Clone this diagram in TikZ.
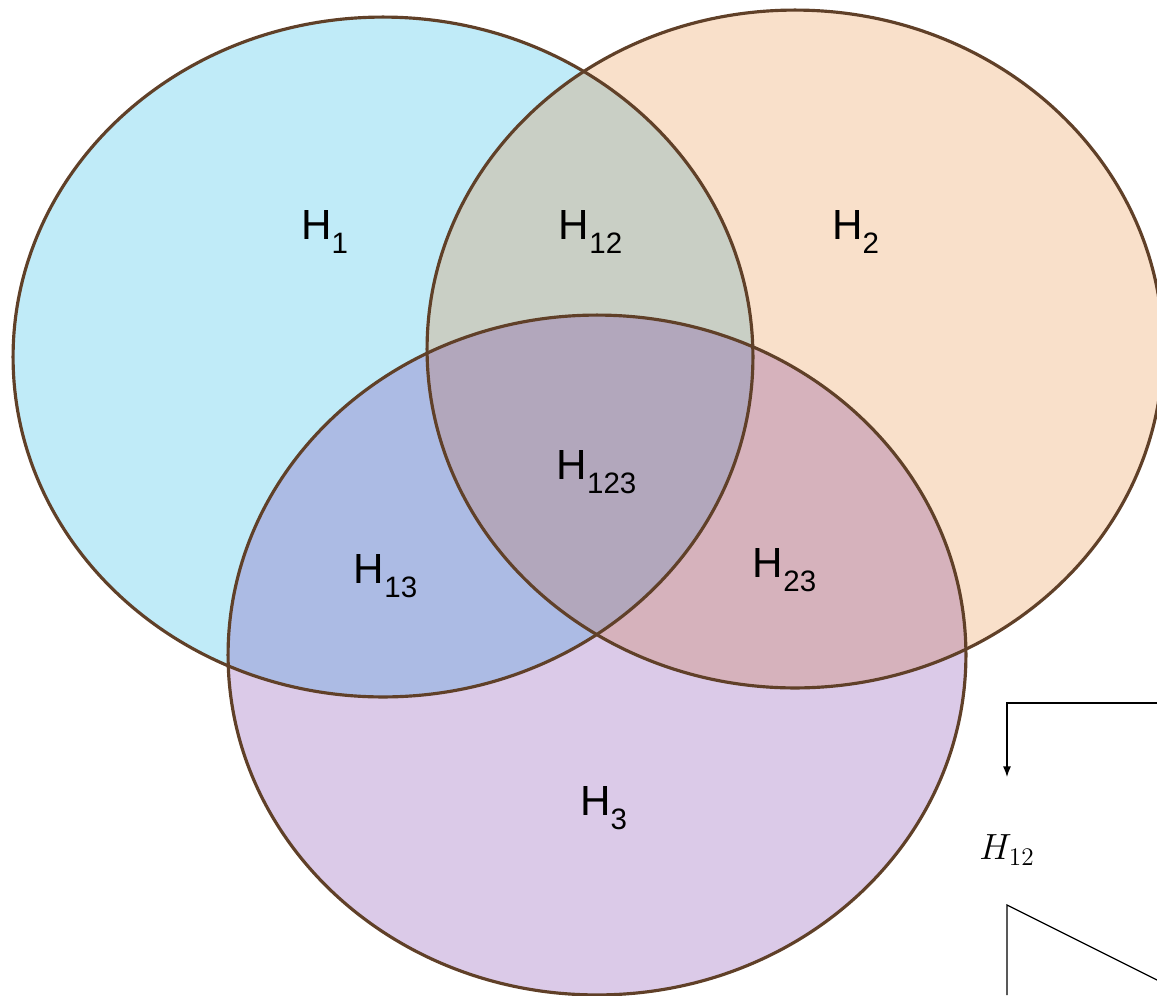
\documentclass[tikz,border=0pt]{standalone}
\usepackage{fontspec}
\setmainfont{Liberation Sans}
\usepackage{xcolor}
\usepackage{tikz}
\usetikzlibrary{calc, positioning, arrows.meta}

\definecolor{cOne}{RGB}{192,235,248}
\definecolor{cTwo}{RGB}{249,224,202}
\definecolor{cThree}{RGB}{219,202,232}
\definecolor{cOneTwo}{RGB}{201,207,197}
\definecolor{cOneThree}{RGB}{172,187,228}
\definecolor{cTwoThree}{RGB}{214,178,188}
\definecolor{cAll}{RGB}{178,167,188}
\definecolor{rim}{RGB}{96,64,40}

\newcommand{\ellOne}{(383,357) ellipse [x radius=7.4cm, y radius=6.8cm]}
\newcommand{\ellTwo}{(795,349) ellipse [x radius=7.36cm, y radius=6.78cm]}
\newcommand{\ellThree}{(597,655) ellipse [x radius=7.38cm, y radius=6.8cm]}
\newcommand{\sub}[1]{\raisebox{-0.32ex}{\textsubscript{#1}}}

\begin{document}
\begin{tikzpicture}[>=latex, x=0.02cm, y=-0.02cm,
    lbl/.style={font=\fontsize{24}{28}\selectfont}]
    \useasboundingbox (0,0) rectangle (1157,995);
    \clip (0,0) rectangle (1157,995);

    % Tô các tập
    \fill[cOne] \ellOne;
    \fill[cTwo] \ellTwo;
    \fill[cThree] \ellThree;
    \begin{scope}
        \clip \ellOne;
        \fill[cOneTwo] \ellTwo;
        \fill[cOneThree] \ellThree;
    \end{scope}
    \begin{scope}
        \clip \ellTwo;
        \fill[cTwoThree] \ellThree;
    \end{scope}
    \begin{scope}
        \clip \ellOne;
        \clip \ellTwo;
        \fill[cAll] \ellThree;
    \end{scope}

    % Viền
    \draw[rim, line width=1.8pt] \ellOne;
    \draw[rim, line width=1.8pt] \ellTwo;
    \draw[rim, line width=1.8pt] \ellThree;

    % Nhãn
    \node[lbl] (h1) at (325,232) {H\sub{1}};
    \node[lbl] (h12) at (591,232) {H\sub{12}};
    \node[lbl] (h2) at (856,232) {H\sub{2}};
    \node[lbl] (h123) at (597,472) {H\sub{123}};
    \node[lbl] (h13) at (386,576) {H\sub{13}};
    \node[lbl] (h23) at (785,570) {H\sub{23}};
    \node[lbl] (h3) at (604,808) {H\sub{3}};

    % Phần hình bị cắt
    \coordinate (a) at (1157,703);
    \coordinate (b) at (1007,703);
    \coordinate (c) at (1007,777);
    \node[font=\fontsize{22}{26}\selectfont] (hx) at (1007,850) {$H_{12}$};
    \coordinate (d) at (1007,995);
    \coordinate (e) at (1007,905);
    \coordinate (f) at (1157,980);
    \draw[-{Latex[length=6pt, width=4.5pt]}, line width=0.7pt] (a) -- (b) -- (c);
    \draw[line width=0.7pt] (d) -- (e) -- (f);
\end{tikzpicture}
\end{document}
